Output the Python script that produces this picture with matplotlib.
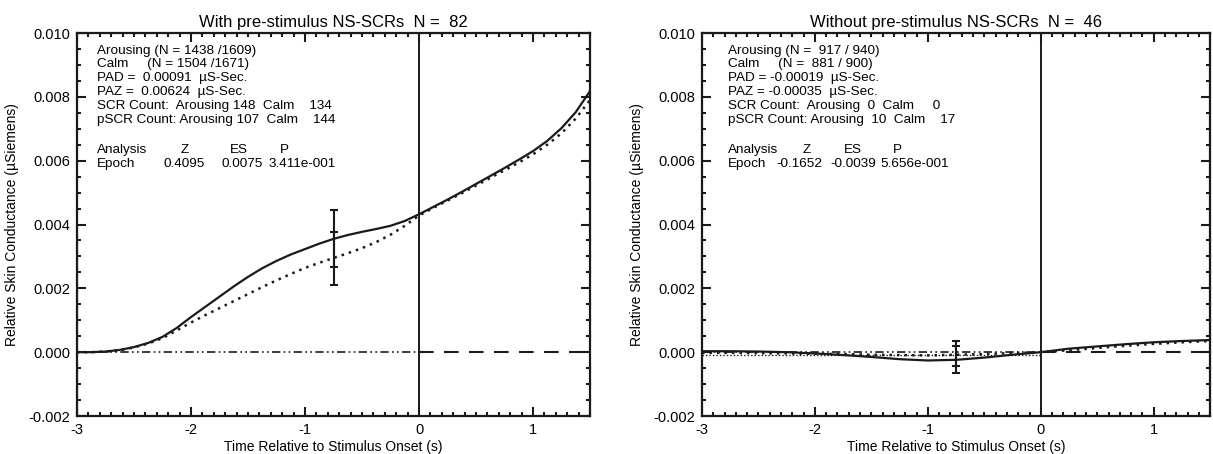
import numpy as np
import matplotlib
matplotlib.use("Agg")
import matplotlib.pyplot as plt
from matplotlib.ticker import MultipleLocator, FormatStrFormatter

plt.rcParams['font.family'] = ['Liberation Sans', 'DejaVu Sans']

# left panel: with pre-stimulus NS-SCRs (time in s, 0.125 s steps)
t_with = [-3.0, -2.875, -2.75, -2.625, -2.5, -2.375, -2.25, -2.125, -2.0, -1.875,
          -1.75, -1.625, -1.5, -1.375, -1.25, -1.125, -1.0, -0.875, -0.75, -0.625,
          -0.5, -0.375, -0.25, -0.125, 0.0, 0.125, 0.25, 0.375, 0.5, 0.625,
          0.75, 0.875, 1.0, 1.125, 1.25, 1.375, 1.5]
with_arousing = [0.0, 0.0, 0.00002, 0.00007, 0.00016, 0.00029, 0.00048, 0.00076,
                 0.00110, 0.00142, 0.00174, 0.00206, 0.00236, 0.00263, 0.00286,
                 0.00306, 0.00323, 0.00340, 0.00355, 0.00367, 0.00377, 0.00386,
                 0.00396, 0.00411, 0.00432, 0.00455, 0.00478, 0.00502, 0.00527,
                 0.00552, 0.00577, 0.00603, 0.00630, 0.00662, 0.00702, 0.00752,
                 0.00818]
with_calm = [0.0, 0.0, 0.00002, 0.00006, 0.00015, 0.00027, 0.00044, 0.00068,
             0.00093, 0.00116, 0.00138, 0.00160, 0.00182, 0.00204, 0.00225,
             0.00245, 0.00264, 0.00280, 0.00295, 0.00310, 0.00326, 0.00345,
             0.00368, 0.00396, 0.00428, 0.00452, 0.00475, 0.00498, 0.00522,
             0.00546, 0.00570, 0.00594, 0.00620, 0.00650, 0.00686, 0.00732,
             0.00790]

# right panel: without pre-stimulus NS-SCRs (0.25 s steps)
t_without = [-3.0, -2.75, -2.5, -2.25, -2.0, -1.75, -1.5, -1.25, -1.0, -0.75,
             -0.5, -0.25, 0.0, 0.25, 0.5, 0.75, 1.0, 1.25, 1.5]
without_arousing = [0.00003, 0.00003, 0.00002, 0.0, -0.00004, -0.00009, -0.00015,
                    -0.00022, -0.00026, -0.00024, -0.00017, -0.00008, 0.0, 0.00011,
                    0.00018, 0.00025, 0.00031, 0.00035, 0.00038]
without_calm = [-0.00002, -0.00002, -0.00003, -0.00004, -0.00005, -0.00006, -0.00008,
                -0.00009, -0.00010, -0.00008, -0.00006, -0.00003, 0.0, 0.00006,
                0.00013, 0.00020, 0.00026, 0.00031, 0.00035]
without_baseline = -0.0001

# error bars at -0.75 s (mean, sem) for arousing / calm
err_t = -0.75
with_err = [(0.00356, 0.00090), (0.00293, 0.00084)]
without_err = [(-0.00024, 0.00042), (-0.00004, 0.00038)]

titles = ["With pre-stimulus NS-SCRs  N =  82", "Without pre-stimulus NS-SCRs  N =  46"]

info_left = ["Arousing (N = 1438 /1609)",
             "Calm     (N = 1504 /1671)",
             "PAD =  0.00091  \u00b5S-Sec.",
             "PAZ =  0.00624  \u00b5S-Sec.",
             "SCR Count:  Arousing 148  Calm    134",
             "pSCR Count: Arousing 107  Calm    144"]
info_right = ["Arousing (N =  917 / 940)",
              "Calm     (N =  881 / 900)",
              "PAD = -0.00019  \u00b5S-Sec.",
              "PAZ = -0.00035  \u00b5S-Sec.",
              "SCR Count:  Arousing  0  Calm     0",
              "pSCR Count: Arousing  10  Calm    17"]
stats_left = ["0.4095", "0.0075", "3.411e-001"]
stats_right = ["-0.1652", "-0.0039", "5.656e-001"]

fig = plt.figure(figsize=(12.13, 4.54), dpi=100)
ax1 = fig.add_axes([0.0635, 0.0837, 0.4229, 0.8436])
ax2 = fig.add_axes([0.5787, 0.0837, 0.4190, 0.8436])


def setup(ax, title):
    ax.set_xlim(-3, 1.5)
    ax.set_ylim(-0.002, 0.010)
    ax.xaxis.set_major_locator(MultipleLocator(1))
    ax.xaxis.set_minor_locator(MultipleLocator(0.1))
    ax.yaxis.set_major_locator(MultipleLocator(0.002))
    ax.yaxis.set_minor_locator(MultipleLocator(0.0005))
    ax.yaxis.set_major_formatter(FormatStrFormatter('%.3f'))
    ax.xaxis.set_major_formatter(FormatStrFormatter('%d'))
    ax.tick_params(which='both', direction='in', top=True, right=True,
                   width=1.5, labelsize=10.5, color='#1a1a1a')
    ax.tick_params(which='major', length=6.2, pad=5)
    ax.tick_params(which='minor', length=3)
    for s in ax.spines.values():
        s.set_linewidth(1.6)
        s.set_color('#1a1a1a')
    ax.set_title(title, fontsize=12, pad=4)
    ax.set_xlabel("Time Relative to Stimulus Onset (s)", fontsize=10, labelpad=2)
    ax.set_ylabel("Relative Skin Conductance (\u00b5Siemens)", fontsize=10, labelpad=7)
    ax.axvline(0, color='#1a1a1a', lw=1.4)


def zero_lines(ax):
    ax.plot([-3, 0], [0, 0], color='#1a1a1a', lw=1.2,
            linestyle=(0, (5, 2, 1, 2, 1, 2)))
    ax.plot([0, 1.5], [0, 0], color='#1a1a1a', lw=1.5, linestyle=(0, (7, 5)))


def info(ax, lines, stats, x0, cols_hdr, cols_val):
    ys = [0.953, 0.919, 0.883, 0.846, 0.809, 0.772]
    for y, s in zip(ys, lines):
        ax.text(x0, y, s, transform=ax.transAxes, fontsize=9.7, va='center', ha='left')
    ax.text(x0, 0.695, "Analysis", transform=ax.transAxes, fontsize=9.7, va='center')
    ax.text(x0, 0.658, "Epoch", transform=ax.transAxes, fontsize=9.7, va='center')
    for x, h in zip(cols_hdr, ["Z", "ES", "P"]):
        ax.text(x, 0.695, h, transform=ax.transAxes, fontsize=9.7, va='center')
    for x, v in zip(cols_val, stats):
        ax.text(x, 0.658, v, transform=ax.transAxes, fontsize=9.7, va='center')


def errbars(ax, errs):
    for m, e in errs:
        ax.errorbar([err_t], [m], yerr=[e], fmt='none', ecolor='#1a1a1a',
                    elinewidth=1.5, capsize=3, capthick=1.5)


# left panel
setup(ax1, titles[0])
zero_lines(ax1)
ax1.plot(t_with, with_calm, color='#1a1a1a', lw=1.8, linestyle=(0, (1, 2)))
ax1.plot(t_with, with_arousing, color='#1a1a1a', lw=1.6)
errbars(ax1, with_err)
info(ax1, info_left, stats_left, 0.039, [0.201, 0.298, 0.396], [0.168, 0.282, 0.374])

# right panel
tw = np.array(t_without)
pre = tw <= 0
setup(ax2, titles[1])
zero_lines(ax2)
ax2.plot(tw[pre], [without_baseline] * int(pre.sum()), color='#1a1a1a', lw=1.0,
         linestyle=(0, (1, 1.5)))
ax2.plot(tw, without_calm, color='#1a1a1a', lw=1.8, linestyle=(0, (1, 2)))
ax2.plot(tw, without_arousing, color='#1a1a1a', lw=1.6)
errbars(ax2, without_err)
info(ax2, info_right, stats_right, 0.051, [0.198, 0.280, 0.375], [0.147, 0.252, 0.352])

fig.savefig("out.png", dpi=100)
